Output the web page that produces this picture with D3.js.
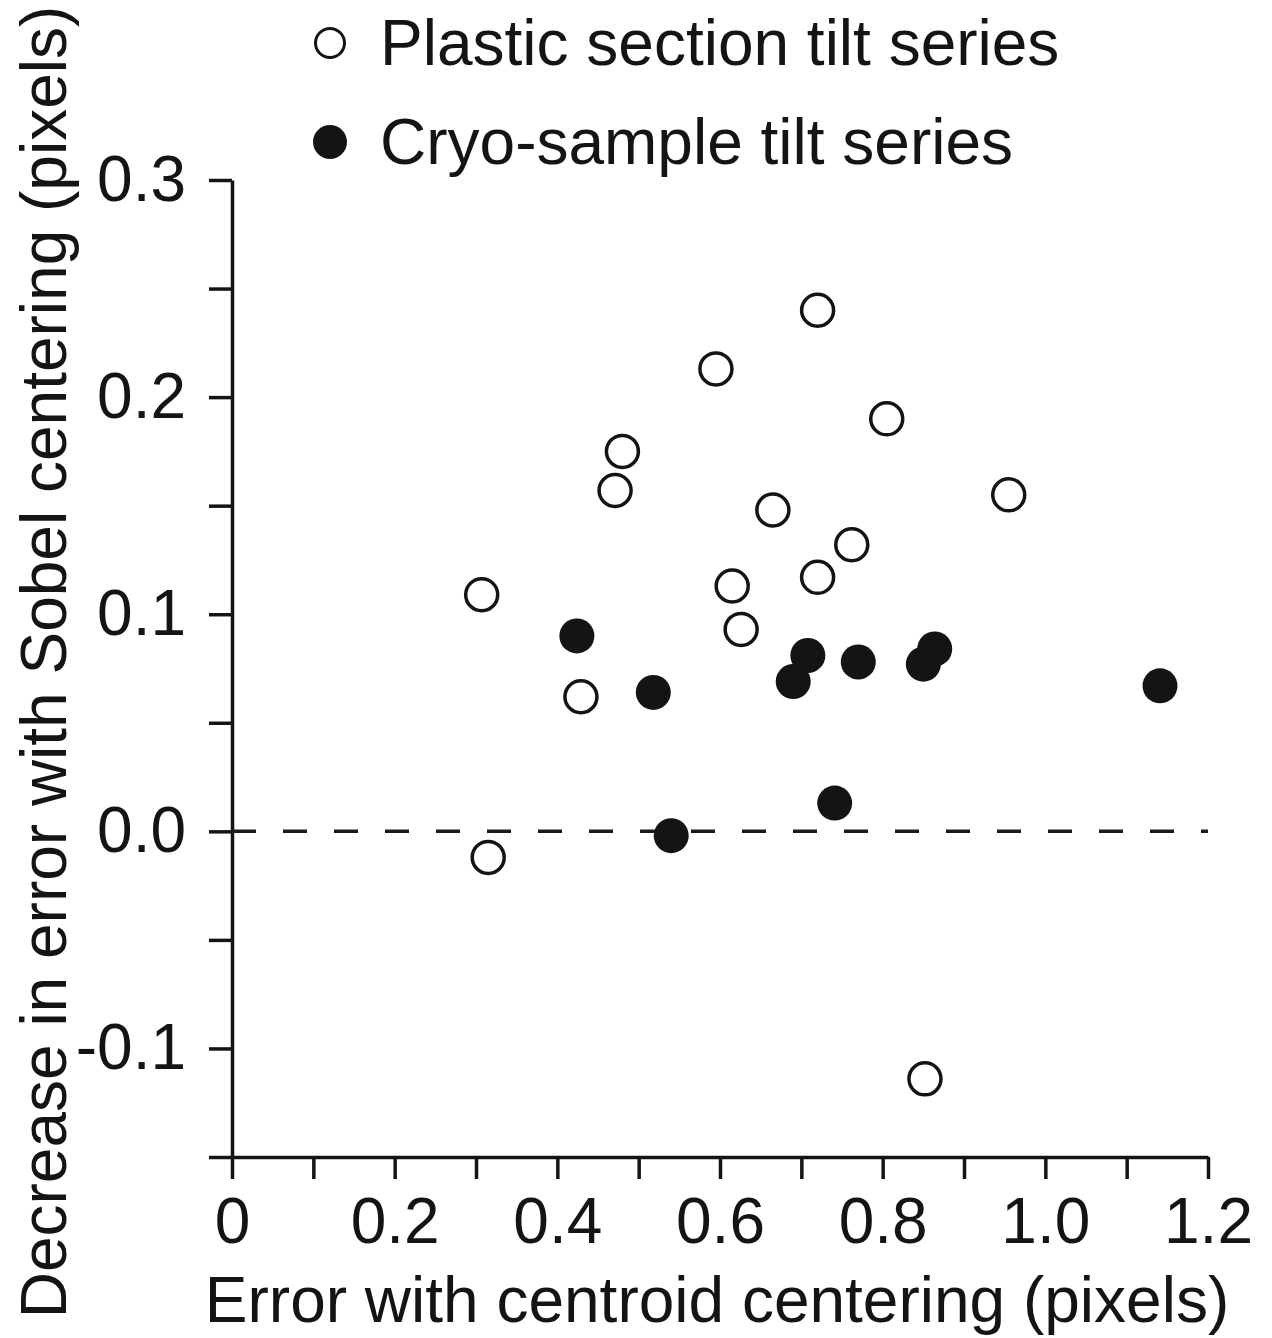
<!DOCTYPE html>
<head>
<meta charset="utf-8">
<style>
  body { margin: 0; background: #fff; }
  text { font-family: "Liberation Sans", Arial, Helvetica, sans-serif; fill: #141414; }
  .axis path, .axis line { stroke: #141414; stroke-width: 3.5px; }
  .axis text { font-size: 64px; }
</style>
</head>
<body>
<svg width="1272" height="1338" id="svgMain"></svg>
<script src="https://d3js.org/d3.v7.min.js"></script>
<script>
//-----------------------------------------------------
//              DATA
//-----------------------------------------------------
var plasticX = [0.72, 0.595, 0.805, 0.48, 0.471, 0.955, 0.665, 0.762, 0.307, 0.615, 0.72, 0.626, 0.429, 0.315, 0.852];
var plasticY = [0.24, 0.213, 0.19, 0.175, 0.157, 0.155, 0.148, 0.132, 0.109, 0.113, 0.117, 0.093, 0.062, -0.012, -0.114];

var cryoX = [0.424, 0.518, 0.54, 0.69, 0.708, 0.77, 0.85, 0.864, 0.741, 1.141];
var cryoY = [0.09, 0.064, -0.002, 0.069, 0.081, 0.078, 0.077, 0.084, 0.013, 0.067];

var seriesNames = ["Plastic section tilt series", "Cryo-sample tilt series"];

var xTicks = [0, 0.1, 0.2, 0.3, 0.4, 0.5, 0.6, 0.7, 0.8, 0.9, 1.0, 1.1, 1.2];
var xLabels = {"0": "0", "0.2": "0.2", "0.4": "0.4", "0.6": "0.6", "0.8": "0.8", "1": "1.0", "1.2": "1.2"};
var yTicks = [-0.15, -0.1, -0.05, 0, 0.05, 0.1, 0.15, 0.2, 0.25, 0.3];
var yLabels = {"-0.1": "-0.1", "0": "0.0", "0.1": "0.1", "0.2": "0.2", "0.3": "0.3"};

var xTitle = "Error with centroid centering (pixels)";
var yTitle = "Decrease in error with Sobel centering (pixels)";

//-----------------------------------------------------
//              DIMENSIONS & SCALES
//-----------------------------------------------------
var svg = d3.select("svg"),
    margin = {top: 180, right: 64, bottom: 181, left: 232},
    width = svg.attr("width") - margin.left - margin.right,
    height = svg.attr("height") - margin.top - margin.bottom,
    g = svg.append("g")
      .attr("transform", "translate(" + margin.left + "," + margin.top + ")");

var x = d3.scaleLinear().domain([0, 1.2]).range([0, width]),
    y = d3.scaleLinear().domain([-0.15, 0.3]).range([height, 0]);

// only some ticks carry a label
function lab(map) {
  return function(d) { var k = String(+d.toFixed(2)); return map[k] || ""; };
}

//-----------------------------------------------------
//              AXES
//-----------------------------------------------------
g.append("g")
    .attr("class", "axis")
    .attr("transform", "translate(0," + height + ")")
    .call(d3.axisBottom(x).tickValues(xTicks).tickSize(22).tickSizeOuter(0).tickPadding(19).tickFormat(lab(xLabels)));

g.append("g")
    .attr("class", "axis")
    .call(d3.axisLeft(y).tickValues(yTicks).tickSize(23).tickSizeOuter(0).tickPadding(23).tickFormat(lab(yLabels)));

//-----------------------------------------------------
//              ZERO LINE (dashed)
//-----------------------------------------------------
g.append("line")
    .attr("x1", x(0)).attr("x2", x(1.2))
    .attr("y1", y(0)).attr("y2", y(0))
    .attr("stroke", "#1a1a1a")
    .attr("stroke-width", 3.5)
    .attr("stroke-dasharray", "24,27");

//-----------------------------------------------------
//              POINTS
//-----------------------------------------------------
var plastic = plasticX.map(function(v, i) { return {x: v, y: plasticY[i]}; });
var cryo = cryoX.map(function(v, i) { return {x: v, y: cryoY[i]}; });

g.selectAll(".plastic")
    .data(plastic)
  .enter().append("circle")
    .attr("class", "plastic")
    .attr("cx", function(d) { return x(d.x); })
    .attr("cy", function(d) { return y(d.y); })
    .attr("r", 16)
    .attr("fill", "#fff")
    .attr("stroke", "#141414")
    .attr("stroke-width", 3.5);

g.selectAll(".cryo")
    .data(cryo)
  .enter().append("circle")
    .attr("class", "cryo")
    .attr("cx", function(d) { return x(d.x); })
    .attr("cy", function(d) { return y(d.y); })
    .attr("r", 17.5)
    .attr("fill", "#141414");

//-----------------------------------------------------
//              AXIS TITLES
//-----------------------------------------------------
svg.append("text")
    .attr("x", 717)
    .attr("y", 1322)
    .attr("text-anchor", "middle")
    .style("font-size", "64px")
    .text(xTitle);

svg.append("text")
    .attr("transform", "translate(66,662) rotate(-90)")
    .attr("text-anchor", "middle")
    .style("font-size", "64px")
    .text(yTitle);

//-----------------------------------------------------
//              LEGEND
//-----------------------------------------------------
var legend = svg.selectAll(".legend")
    .data(seriesNames)
  .enter().append("g")
    .attr("class", "legend")
    .attr("transform", function(d, i) { return "translate(330," + (43 + i * 99) + ")"; });

legend.append("circle")
    .attr("r", function(d, i) { return i === 0 ? 14.5 : 17; })
    .attr("fill", function(d, i) { return i === 0 ? "#fff" : "#141414"; })
    .attr("stroke", "#141414")
    .attr("stroke-width", function(d, i) { return i === 0 ? 3 : 0; });

legend.append("text")
    .attr("x", 50)
    .attr("y", 22)
    .style("font-size", "64px")
    .text(function(d) { return d; });
</script>
</body>
